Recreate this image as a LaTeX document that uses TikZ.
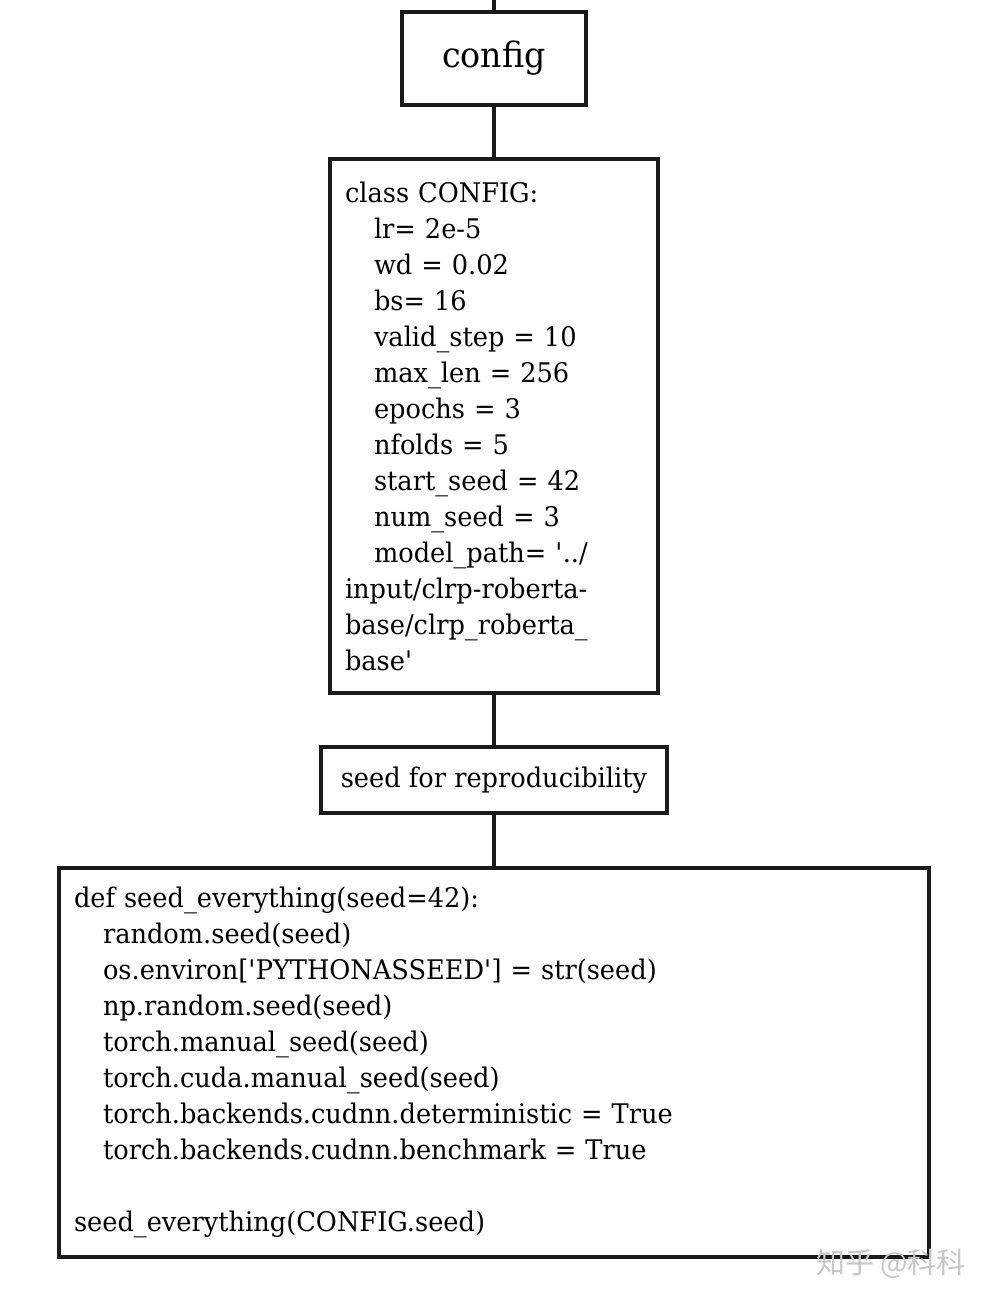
\documentclass[tikz,border=0pt]{standalone}
\usepackage{fontspec}
\setmainfont[FakeStretch=0.95]{DejaVu Serif}
\newfontfamily\cjkfont{Noto Sans CJK SC}
\usetikzlibrary{positioning}

\definecolor{inkgray}{HTML}{1A1A1A}
\newcommand{\ind}{\hspace*{29pt}}
\newcommand{\sq}{\textquotesingle}

\begin{document}
\begin{tikzpicture}[x=1pt, y=1pt, node distance=50.5pt, line width=3.5pt, draw=inkgray,
                  box/.style={draw=inkgray, line width=3.5pt, inner xsep=15pt,
                  inner ysep=0pt, font=\fontsize{27}{36}\selectfont},
                  codebox/.style={box, align=left}]
                  
                  \useasboundingbox (0,0) rectangle (996,-1304);
                  
                  % Cajas del diagrama.
                  \coordinate (top) at (494,0);
                  \node[box, minimum width=184pt, minimum height=93pt,
                  font=\fontsize{35}{40}\selectfont] (config) at (494,-58.5) {config};
                  \node[codebox, text width=298pt, minimum height=534pt, below=of config] (cfg)
                  {class CONFIG:\\
                  \ind lr= 2e-5\\
                  \ind wd = 0.02\\
                  \ind bs= 16\\
                  \ind valid\_step = 10\\
                  \ind max\_len = 256\\
                  \ind epochs = 3\\
                  \ind nfolds = 5\\
                  \ind start\_seed = 42\\
                  \ind num\_seed = 3\\
                  \ind model\_path= \sq../\\
                  input/clrp-roberta-\\
                  base/clrp\_roberta\_\\
                  base\sq};
                  \node[box, align=center, minimum width=346pt, minimum height=66pt,
                  below=of cfg] (seed) {seed for reproducibility};
                  \node[codebox, text width=840pt, minimum height=389pt,
                  below=51.5pt of seed] (seedfn)
                  {def seed\_everything(seed=42):\\
                  \ind random.seed(seed)\\
                  \ind os.environ[\sq PYTHONASSEED\sq] = str(seed)\\
                  \ind np.random.seed(seed)\\
                  \ind torch.manual\_seed(seed)\\
                  \ind torch.cuda.manual\_seed(seed)\\
                  \ind torch.backends.cudnn.deterministic = True\\
                  \ind torch.backends.cudnn.benchmark = True\\[36pt]
                  seed\_everything(CONFIG.seed)};
                  
                  % Marca de agua.
                  \node[text=black!22, font=\cjkfont\fontsize{29}{31}\selectfont,
                  inner sep=0pt] (mark) at (891,-1264) {知乎 @科科};
                  
                  % Conectores entre cajas.
                  \draw (top) -- (config)
                  (config) -- (cfg)
                  (cfg) -- (seed)
                  (seed) -- (seedfn);
                
                \end{tikzpicture}
\end{document}
